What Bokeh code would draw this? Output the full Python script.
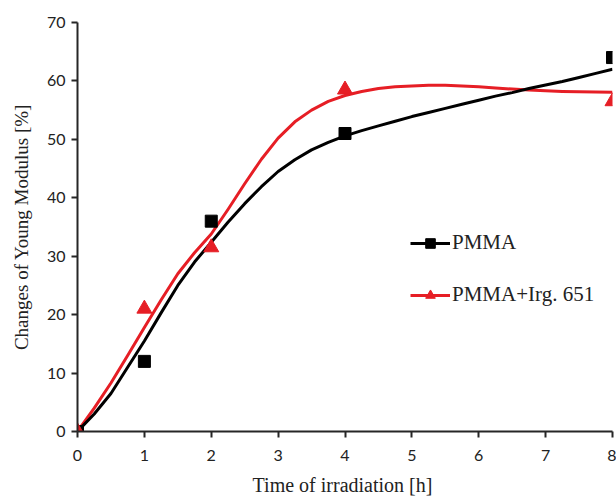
from bokeh.plotting import figure
from bokeh.models import Range1d, FixedTicker, Legend, LegendItem
from bokeh.embed import file_html
from bokeh.resources import INLINE

# measured data
hours = [0, 1, 2, 4, 8]
pmma = [0, 12, 36, 51, 64]
pmma_irg = [0, 21, 31.5, 58.5, 56.5]

# smoothed trend curves (every 0.25 h)
curve_h = [0, 0.25, 0.5, 0.75, 1, 1.25, 1.5, 1.75, 2, 2.25, 2.5, 2.75, 3, 3.25, 3.5, 3.75, 4,
           4.25, 4.5, 4.75, 5, 5.25, 5.5, 5.75, 6, 6.25, 6.5, 6.75, 7, 7.25, 7.5, 7.75, 8]
pmma_curve = [0, 3.0, 6.5, 11.0, 15.5, 20.3, 25.0, 29.0, 32.4, 35.8, 39.0, 41.9, 44.5, 46.5, 48.2, 49.5, 50.6,
              51.5, 52.3, 53.1, 53.9, 54.6, 55.3, 56.0, 56.7, 57.4, 58.0, 58.7, 59.3, 59.9, 60.6, 61.3, 62.0]
irg_curve = [0, 4.0, 8.3, 13.0, 17.8, 22.5, 27.0, 30.6, 33.8, 38.0, 42.4, 46.6, 50.2, 53.0, 55.0, 56.5, 57.5,
             58.2, 58.7, 59.0, 59.15, 59.25, 59.25, 59.15, 59.0, 58.8, 58.6, 58.45, 58.3, 58.2, 58.15, 58.1, 58.05]

x_ticks = [0, 1, 2, 3, 4, 5, 6, 7, 8]
y_ticks = [0, 10, 20, 30, 40, 50, 60, 70]

RED = "#e61e25"
BLACK = "#000000"
AX = "#262626"

p = figure(width=616, height=498, output_backend="svg", toolbar_location=None,
           x_range=Range1d(0, 8), y_range=Range1d(0, 70),
           min_border_left=77, min_border_right=4, min_border_top=22, min_border_bottom=67)
p.outline_line_color = None
p.grid.visible = False

for ax in (p.xaxis[0], p.yaxis[0]):
    ax.axis_line_color = AX
    ax.axis_line_width = 2
    ax.major_tick_line_color = AX
    ax.major_tick_line_width = 2
    ax.major_tick_out = 6
    ax.major_tick_in = 0
    ax.minor_tick_line_color = None
    ax.major_label_text_font = "Lato"
    ax.major_label_text_font_size = "16px"
    ax.major_label_text_color = "#222222"
    ax.axis_label_text_font = "Liberation Serif"
    ax.axis_label_text_font_style = "normal"
    ax.axis_label_text_color = "#222222"

p.xaxis.ticker = FixedTicker(ticks=x_ticks)
p.yaxis.ticker = FixedTicker(ticks=y_ticks)
p.xaxis.axis_label = "Time of  irradiation [h]"
p.xaxis.axis_label_text_font_size = "20px"
p.xaxis.major_label_standoff = 12
p.xaxis.axis_label_standoff = 10
p.yaxis.axis_label = "Changes of Young Modulus [%]"
p.yaxis.axis_label_text_font_size = "19px"
p.yaxis.major_label_standoff = 6
p.yaxis.axis_label_standoff = 12

r_line = p.line(curve_h, irg_curve, line_color=RED, line_width=3, line_join="round")
b_line = p.line(curve_h, pmma_curve, line_color=BLACK, line_width=3, line_join="round")
b_pts = p.scatter(hours, pmma, marker="square", size=12, fill_color=BLACK, line_color=BLACK)
r_pts = p.scatter(hours, pmma_irg, marker="triangle", size=15, fill_color=RED, line_color=RED)

legend = Legend(items=[LegendItem(label="PMMA", renderers=[b_line, b_pts]),
                       LegendItem(label="PMMA+Irg. 651", renderers=[r_line, r_pts])],
                location=(333, 124))
legend.padding = 0
legend.margin = 0
legend.border_line_color = None
legend.background_fill_alpha = 0
legend.glyph_width = 40
legend.glyph_height = 24
legend.label_height = 24
legend.spacing = 27
legend.label_standoff = 2
legend.label_text_font = "Liberation Serif"
legend.label_text_font_size = "21px"
legend.label_text_color = "#222222"
p.add_layout(legend)

open("out.html", "w").write(file_html(p, INLINE))
